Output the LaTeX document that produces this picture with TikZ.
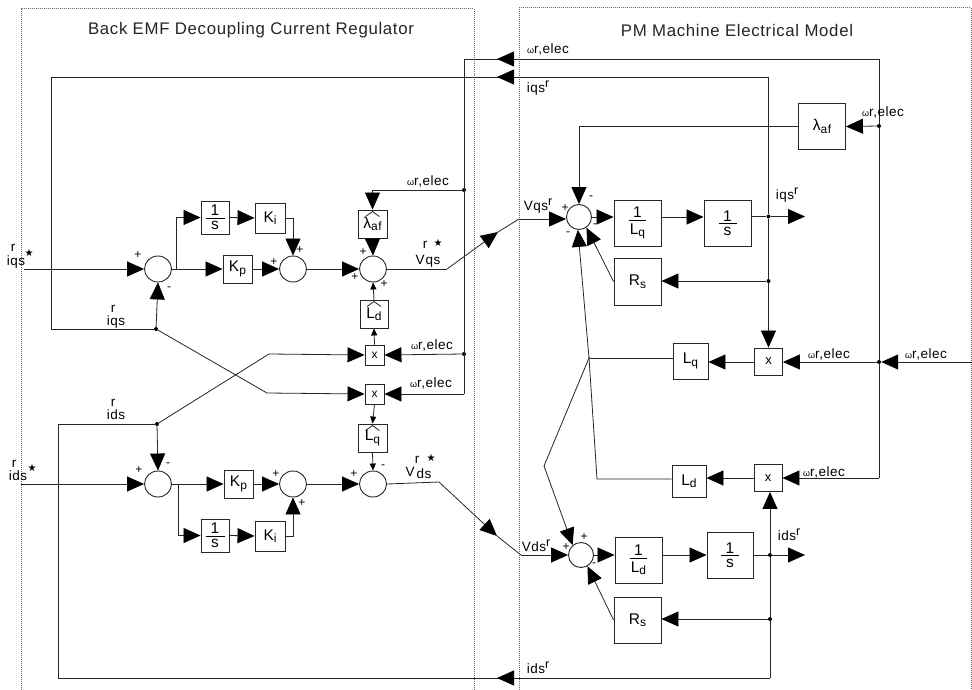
\documentclass[tikz,border=0pt]{standalone}
\usepackage{fontspec}
\setmainfont{Liberation Sans}[LetterSpace=4]
\newfontfamily\symfont{DejaVu Sans}
\usetikzlibrary{arrows.meta,shapes.geometric}
\newcommand{\fsz}[1]{\fontsize{#1}{#1}\selectfont}
\newcommand{\lowtxt}[1]{\raisebox{-2.5pt}{\fsz{12}#1}}
\newcommand{\suptxt}[1]{\raisebox{5pt}{\fsz{12.5}#1}}
\newcommand{\wre}{{\fsz{9}ω}r,elec}
\newcommand{\blkfrac}[3]{\shortstack[c]{#1\\[-1pt]\rule[3pt]{#3}{.9pt}\\[-3pt]#2}}
\newcommand{\chev}[1]{\draw[thin line] ([xshift=-7pt,yshift=-7pt]#1.north) -- ([yshift=-2pt]#1.north) -- ([xshift=7pt,yshift=-7pt]#1.north);}
\tikzset{
  thin line/.style={line width=.8pt,draw=black!85},
  link/.style={thin line},
  bigarr/.style={thin line,-{Triangle[length=17pt,width=15pt,color=black,fill=black]}},
  smallarr/.style={thin line,-{Triangle[length=7pt,width=6pt,color=black,fill=black]}},
  frame/.style={densely dotted,line width=1pt,draw=black!60},
  blk/.style={draw=black!85,line width=.9pt,inner sep=0pt,font=\fsz{15.5},align=center,fill=white},
  sum/.style={draw=black!85,ellipse,line width=.9pt,inner sep=0pt,minimum width=27pt,minimum height=26pt,fill=white},
  dot/.style={circle,fill=black,inner sep=0pt,minimum size=4pt},
  lab/.style={inner sep=0pt,font=\fsz{13.5}},
  sgn/.style={inner sep=0pt,font=\fsz{12}},
  ttl/.style={inner sep=0pt,font=\fsz{16.8},text=black!85},
  star/.style={inner sep=0pt,font=\symfont\fsz{10}}
}
\begin{document}
\begin{tikzpicture}[x=1pt,y=-1pt]
\useasboundingbox[fill=white] (0,0) rectangle (972,690);
% frames
\draw[frame] (21,690) -- (21,9) -- (474,9) -- (474,690);
\draw[frame] (519,690) -- (519,8) -- (971,8) -- (971,690);
\node[ttl] (t1) at (251,30) {Back EMF Decoupling Current Regulator};
\node[ttl] (t2) at (737,30) {PM Machine Electrical Model};

% sums
\node[sum] (s1) at (158,269) {};
\node[sum] (s2) at (293,269) {};
\node[sum] (s3) at (373,269) {};
\node[sum] (s4) at (158,484) {};
\node[sum] (s5) at (293,484) {};
\node[sum] (s6) at (373,484) {};
\node[sum,minimum width=25pt,minimum height=25pt] (s8) at (579,217) {};
\node[sum,minimum width=25pt,minimum height=25pt] (s7) at (581,555) {};

% left blocks
\node[blk,minimum width=29pt,minimum height=28pt] (kp1) at (237.5,269) {K\lowtxt{p}};
\node[blk,minimum width=28pt,minimum height=33pt] (int1) at (215,217.5) {\blkfrac{1}{s}{19pt}};
\node[blk,minimum width=30pt,minimum height=30pt] (ki1) at (270,218) {K\lowtxt{i}};
\node[blk,minimum width=29pt,minimum height=28pt] (laf1) at (372.5,224) {\raisebox{-2pt}{λ\lowtxt{af}}};
\node[blk,minimum width=28pt,minimum height=28pt] (ld1) at (374,314) {\raisebox{-3pt}{L\lowtxt{d}}};
\node[blk,minimum width=19pt,minimum height=20pt,font=\fsz{12}] (x1) at (374.5,355) {x};
\node[blk,minimum width=19pt,minimum height=20pt,font=\fsz{12}] (x2) at (374.5,394) {x};
\node[blk,minimum width=29pt,minimum height=28pt] (lq1) at (372.5,438) {\raisebox{-3pt}{L\lowtxt{q}}};
\node[blk,minimum width=29pt,minimum height=28pt] (kp2) at (238.5,484) {K\lowtxt{p}};
\node[blk,minimum width=28pt,minimum height=33pt] (int2) at (215,535.5) {\blkfrac{1}{s}{19pt}};
\node[blk,minimum width=30pt,minimum height=30pt] (ki2) at (270,536) {K\lowtxt{i}};
\chev{laf1}\chev{ld1}\chev{lq1}

% right blocks
\node[blk,minimum width=47pt,minimum height=46pt] (lam) at (822,126.5) {λ\lowtxt{af}};
\node[blk,minimum width=47pt,minimum height=46pt] (invlq) at (637.5,223) {\blkfrac{1}{L\lowtxt{q}}{17pt}};
\node[blk,minimum width=47pt,minimum height=46pt] (int3) at (727.5,223) {\blkfrac{1}{s}{18pt}};
\node[blk,minimum width=47pt,minimum height=47pt] (rs1) at (637.5,281.5) {R\lowtxt{s}};
\node[blk,minimum width=35pt,minimum height=36pt] (lq2) at (690.5,361) {L\lowtxt{q}};
\node[blk,minimum width=28pt,minimum height=27pt,font=\fsz{13}] (x3) at (768.5,361.5) {x};
\node[blk,minimum width=34pt,minimum height=32pt] (ld2) at (689,481) {L\lowtxt{d}};
\node[blk,minimum width=28pt,minimum height=27pt,font=\fsz{13}] (x4) at (768,478) {x};
\node[blk,minimum width=47pt,minimum height=46pt] (invld) at (638.5,560) {\blkfrac{1}{L\lowtxt{d}}{17pt}};
\node[blk,minimum width=46pt,minimum height=46pt] (int4) at (730,555) {\blkfrac{1}{s}{18pt}};
\node[blk,minimum width=47pt,minimum height=46pt] (rs2) at (637.5,620) {R\lowtxt{s}};

% junctions
\node[dot] (jw1) at (464,190) {};
\node[dot] (jw2) at (464,354) {};
\node[dot] (jq1) at (156,329) {};
\node[dot] (jd1) at (157,424) {};
\node[dot] (jwr1) at (879,126) {};
\node[dot] (jwr2) at (879,362) {};
\node[dot] (jq2) at (768.5,216.5) {};
\node[dot] (jq3) at (768.5,281) {};
\node[dot] (jd2) at (770,555) {};
\node[dot] (jd3) at (770,619) {};
\node[dot,minimum size=2pt] (jf) at (589,358) {};

% named free ends and bends
\coordinate (iq) at (24,269);
\coordinate (id) at (21,484);
\coordinate (b1) at (176,269);
\coordinate (b2) at (178,484);
\coordinate (vq1) at (447,269);
\coordinate (vqm) at (498,232);
\coordinate (vq2) at (519,219);
\coordinate (vd1) at (439,482);
\coordinate (vdm) at (497,536);
\coordinate (vd2) at (521,555);
\coordinate (tw) at (879,59);
\coordinate (twl) at (464,59);
\coordinate (twb) at (464,394);
\coordinate (tq) at (768.5,77);
\coordinate (tql) at (51,77);
\coordinate (tqb) at (51,329);
\coordinate (xq) at (267,393);
\coordinate (xd) at (269,354);
\coordinate (tdr) at (770,678);
\coordinate (tdl) at (58,678);
\coordinate (tdt) at (58,424);
\coordinate (bw) at (879,478);
\coordinate (rw) at (972,362);
\coordinate (oq) at (805,216.5);
\coordinate (od) at (805,555);
\coordinate (fa) at (544,466);
\coordinate (fb) at (597,479);
\coordinate (ldin) at (374,300);

% Left: forward paths, upper
\draw[bigarr] (iq) -- (s1.west);
\draw[bigarr] (s1.east) -- (kp1.west);
\draw[bigarr] (b1) |- (int1.west);
\draw[link] (s1.east) -- (b1);
\draw[bigarr] (int1.east) -- (ki1.west);
\draw[bigarr] (ki1.east) -| (s2.north);
\draw[bigarr] (kp1.east) -- (s2.west);
\draw[bigarr] (s2.east) -- (s3.west);
\draw[link] (s3.east) -- (vq1);
\draw[bigarr] (vq1) -- (vqm);
\draw[link] (vqm) -- (vq2);
\draw[bigarr] (vq2) -- (vq2 -| s8.west);
% Left: forward paths, lower
\draw[bigarr] (id) -- (s4.west);
\draw[bigarr] (s4.east) -- (kp2.west);
\draw[link] (s4.east) -- (b2);
\draw[bigarr] (b2) |- (int2.west);
\draw[bigarr] (int2.east) -- (ki2.west);
\draw[bigarr] (ki2.east) -| (s5.south);
\draw[bigarr] (kp2.east) -- (s5.west);
\draw[bigarr] (s5.east) -- (s6.west);
\draw[link] (s6.east) -- (vd1);
\draw[bigarr] (vd1) -- (vdm);
\draw[link] (vdm) -- (vd2);
\draw[bigarr] (vd2) -- (s7.west);
% Left: decoupling
\draw[bigarr] (jw1) -| (laf1.north);
\draw[bigarr] (laf1.south) -- (s3.north);
\draw[smallarr] (ldin) -- (s3.south);
\draw[smallarr] (x1.north) -- (ld1.south);
\draw[smallarr] (x2.south) -- (lq1.north);
\draw[smallarr] (lq1.south) -- (s6.north);
\draw[bigarr] (jw2) -- (x1.east);
\draw[bigarr] (twb) -- (x2.east);
\draw[link] (jd1) -- (xd);
\draw[bigarr] (xd) -- (x1.west);
\draw[link] (jq1) -- (xq);
\draw[bigarr] (xq) -- (x2.west);
% top buses
\draw[link] (tw) -- (twl) -- (twb);
\draw[bigarr] (tw) -- (497,59);
\draw[link] (tq) -- (tql) -- (tqb) -- (jq1);
\draw[bigarr] (tq) -- (497,77);
\draw[bigarr] (jq1) -- (s1.south);
\draw[link] (tdr) -- (tdl) -- (tdt) -- (jd1);
\draw[bigarr] (tdr) -- (497,678);
\draw[bigarr] (jd1) -- (s4.north);

% Right upper
\draw[bigarr] (s8.east) -- (s8.east -| invlq.west);
\draw[bigarr] (invlq.east |- s8.east) -- (int3.west |- s8.east);
\draw[link] (int3.east |- jq2) -- (jq2);
\draw[bigarr] (jq2) -- (oq);
\draw[link] (tq) -- (jq2) -- (jq3);
\draw[bigarr] (jq3) -- (x3.north);
\draw[bigarr] (jq3) -- (jq3 -| rs1.east);
\draw[bigarr] (rs1.west) -- (s8.-55);
\draw[link] (tw) -- (jwr1) -- (jwr2) -- (bw);
\draw[bigarr] (jwr1) -- (lam.east);
\draw[bigarr] (lam.west) -| (s8.north);
\draw[bigarr] (rw) -- (jwr2);
\draw[bigarr] (jwr2) -- (jwr2 -| x3.east);
\draw[bigarr] (x3.west |- jwr2) -- (jwr2 -| lq2.east);
\draw[link] (lq2.west |- jf) -- (jf);
\draw[bigarr] (jf) -- (s8.-95);
\draw[link] (jf) -- (fb) -- (ld2.west |- fb);
% Right lower
\draw[bigarr] (bw) -- (x4.east);
\draw[bigarr] (x4.west) -- (ld2.east |- x4.west);
\draw[link] (jf) -- (fa);
\draw[bigarr] (fa) -- (s7.130);
\draw[bigarr] (s7.east) -- (s7.east -| invld.west);
\draw[bigarr] (invld.east |- s7.east) -- (int4.west |- s7.east);
\draw[link] (int4.east) -- (jd2);
\draw[bigarr] (jd2) -- (od);
\draw[bigarr] (tdr) -- (jd3) -- (jd2) -- (jd2 |- x4.south);
\draw[bigarr] (jd3) -- (jd3 -| rs2.east);
\draw[bigarr] (rs2.west) -- (s7.-60);

% Left labels
\node[lab] (a1) at (13,248) {r};
\node[lab] (a2) at (16,262) {iqs};
\node[star] (a3) at (29,253) {★};
\node[lab] (a4) at (113,309) {r};
\node[lab] (a5) at (116,322) {iqs};
\node[lab] (a6) at (425,245) {r};
\node[star] (a7) at (438,243) {★};
\node[lab] (a8) at (420,260) {V};
\node[lab] (a9) at (433,262) {qs};
\node[lab] (a10) at (113,403) {r};
\node[lab] (a11) at (116,415) {ids};
\node[lab] (a12) at (14,464) {r};
\node[lab] (a13) at (18,476) {ids};
\node[star] (a14) at (32,468) {★};
\node[lab] (a15) at (417,460) {r};
\node[star] (a16) at (431,458) {★};
\node[lab] (a17) at (410,472) {V};
\node[lab] (a18) at (424,474) {ds};
\node[lab] (w1) at (428,181) {\wre};
\node[lab] (w2) at (432,345) {\wre};
\node[lab] (w3) at (431,383) {\wre};
% Left signs
\node[sgn] (p1) at (138,255) {+};
\node[sgn] (p2) at (169,289) {-};
\node[sgn] (p3) at (274,262) {+};
\node[sgn] (p4) at (300,250) {+};
\node[sgn] (p5) at (363,252) {+};
\node[sgn] (p6) at (355,277) {+};
\node[sgn] (p7) at (384,284) {+};
\node[sgn] (p8) at (139,470) {+};
\node[sgn] (p9) at (168,465) {-};
\node[sgn] (p10) at (276,474) {+};
\node[sgn] (p11) at (302,503) {+};
\node[sgn] (p12) at (354,474) {+};
\node[sgn] (p13) at (383,467) {-};
% Right labels
\node[lab] (w4) at (548,49) {\wre};
\node[lab] (w5) at (883,112) {\wre};
\node[lab] (w6) at (829,354) {\wre};
\node[lab] (w7) at (926,354) {\wre};
\node[lab] (w8) at (824,472) {\wre};
\node[lab] (c1) at (538,88) {iqs\suptxt{r}};
\node[lab] (c2) at (538,206) {Vqs\suptxt{r}};
\node[lab] (c3) at (787,195) {iqs\suptxt{r}};
\node[lab] (c4) at (789,535) {ids\suptxt{r}};
\node[lab] (c5) at (538,668) {ids\suptxt{r}};
\node[lab] (c6) at (536,546) {Vds\suptxt{r}};
% Right signs
\node[sgn] (q1) at (565,208) {+};
\node[sgn] (q2) at (591,198) {-};
\node[sgn] (q3) at (595,226) {-};
\node[sgn] (q4) at (568,234) {-};
\node[sgn] (q5) at (566,547) {+};
\node[sgn] (q6) at (584,537) {+};
\node[sgn] (q7) at (594,565) {-};
\end{tikzpicture}
\end{document}
